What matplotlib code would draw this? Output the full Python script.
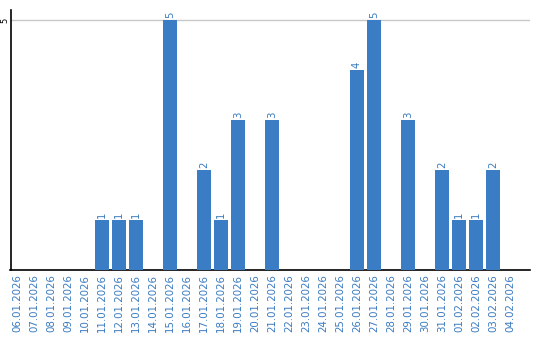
import matplotlib
matplotlib.use("Agg")
import matplotlib.pyplot as plt

dates = ["06.01.2026", "07.01.2026", "08.01.2026", "09.01.2026", "10.01.2026",
         "11.01.2026", "12.01.2026", "13.01.2026", "14.01.2026", "15.01.2026",
         "16.01.2026", "17.01.2026", "18.01.2026", "19.01.2026", "20.01.2026",
         "21.01.2026", "22.01.2026", "23.01.2026", "24.01.2026", "25.01.2026",
         "26.01.2026", "27.01.2026", "28.01.2026", "29.01.2026", "30.01.2026",
         "31.01.2026", "01.02.2026", "02.02.2026", "03.02.2026", "04.02.2026"]
values = [0, 0, 0, 0, 0,
          1, 1, 1, 0, 5,
          0, 2, 1, 3, 0,
          3, 0, 0, 0, 0,
          4, 5, 0, 3, 0,
          2, 1, 1, 2, 0]
yticks = [5]

bar_color = "#3b7dc4"
label_color = "#3a7bc0"

fig = plt.figure(figsize=(5.4, 3.4), dpi=100)
ax = fig.add_axes([10.5/540, 1-270/340, (530-10.5)/540, (270-10)/340])
x = list(range(len(dates)))
ax.bar(x, values, width=0.82, color=bar_color, zorder=3)
for xi, v in zip(x, values):
    if v > 0:
        ax.text(xi, v + 0.03, str(v), rotation=90, ha="center", va="bottom",
                fontsize=7.3, color=label_color, zorder=4)
ax.set_xlim(-0.38, 30.18)
ax.set_ylim(0, 5.2)
ax.set_yticks(yticks)
ax.set_yticklabels([str(t) for t in yticks], rotation=90, va="center", fontsize=6)
ax.yaxis.grid(True, color="#c8c8c8", linewidth=1, zorder=0)
ax.set_xticks(x)
ax.set_xticklabels(dates, rotation=90, fontsize=7.4, color=label_color)
ax.tick_params(axis="both", length=0, pad=3)
ax.tick_params(axis="y", pad=0.5)
for s in ["top", "right"]:
    ax.spines[s].set_visible(False)
ax.spines["left"].set_linewidth(1.2)
ax.spines["bottom"].set_linewidth(1.2)
fig.savefig("out.png", dpi=100)
